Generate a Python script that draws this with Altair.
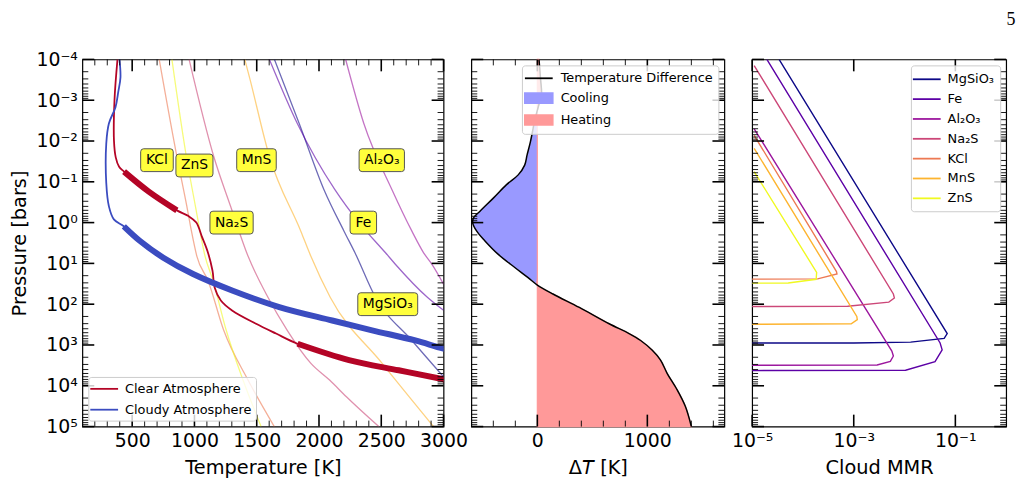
import altair as alt
import pandas as pd

FONT = "DejaVu Sans"

# ---------------------------------------------------------------------------
# Left panel: temperature profiles, log10 pressure [bar] and temperature [K]
# ---------------------------------------------------------------------------
clear_logp = [-4.0, -3.0, -2.0, -1.6, -1.37, -1.25, -0.76, -0.30, -0.16, 0.0, 0.33,
              0.70, 1.18, 1.59, 1.91, 2.16, 2.48, 2.72, 2.97, 3.37, 3.62, 3.84, 4.0]
clear_temp = [382, 358, 354, 368, 395, 435, 633, 859, 952, 1015, 1058,
              1105, 1145, 1162, 1212, 1305, 1495, 1655, 1828, 2241, 2640, 3000, 3250]
cloudy_logp = [-4.0, -3.56, -3.2, -2.83, -2.43, -1.94, -0.97, -0.40, -0.08, 0.09, 0.45,
               0.86, 1.26, 1.67, 2.07, 2.40, 2.64, 2.89, 3.09, 3.3]
cloudy_temp = [398, 406, 388, 366, 313, 292, 292, 313, 353, 433, 563,
               750, 989, 1308, 1681, 2106, 2426, 2773, 3000, 3300]

# convective regions (log10 pressure ranges) drawn with a heavy line
clear_convective = [(-1.26, -0.29), (2.96, 9.0)]
cloudy_convective = [(0.08, 9.0)]

# condensation curves: species -> (log10 pressure, temperature)
species = ["MgSiO₃", "Fe", "Al₂O₃", "Na₂S", "KCl", "MnS", "ZnS"]
species_colors = ["#0d0887", "#5c01a6", "#9c179e", "#cc4778", "#ed7953", "#fdb42f", "#f0f921"]
condensation = {
    "MgSiO₃": ([-4.0, -2.43, -0.80, 0.21, 0.74, 1.83, 2.89, 3.78],
               [1642, 1841, 2041, 2201, 2289, 2453, 2746, 3000]),
    "Fe": ([-4.0, -2.43, -0.80, 0.0, 0.74, 1.02, 1.83, 2.15],
           [1602, 1826, 2129, 2321, 2534, 2613, 2870, 3000]),
    "Al₂O₃": ([-4.0, -2.43, -0.80, 0.21, 0.74, 1.02, 1.51],
              [2214, 2360, 2587, 2746, 2840, 2906, 3000]),
    "Na₂S": ([-4.0, -1.62, -0.40, 0.82, 1.83, 2.64, 3.45, 3.86, 4.27, 5.0],
             [957, 1155, 1290, 1430, 1590, 1745, 1935, 2085, 2220, 2480]),
    "KCl": ([-4.0, -1.62, -0.40, 0.21, 0.82, 1.43, 2.64, 3.86, 5.0],
            [717, 859, 939, 976, 1019, 1110, 1235, 1430, 1641]),
    "MnS": ([-4.0, -3.56, -1.62, 0.21, 0.82, 1.83, 3.45, 5.0],
            [1404, 1442, 1602, 1854, 1934, 2090, 2507, 2920]),
    "ZnS": ([-4.0, -1.62, -0.40, 0.82, 1.43, 2.64, 3.86, 5.0],
            [819, 935, 1008, 1085, 1150, 1255, 1390, 1535]),
}

# species name tags
tag_text = ["KCl", "ZnS", "MnS", "Al₂O₃", "Na₂S", "Fe", "MgSiO₃"]
tag_temp = [699, 1000, 1498, 2504, 1298, 2356, 2552]
tag_logp = [-1.53, -1.40, -1.53, -1.53, 0.0, 0.0, 2.0]

# ---------------------------------------------------------------------------
# Middle panel: temperature difference (cloudy - clear) [K]
# ---------------------------------------------------------------------------
dt_logp = [-4.0, -3.5, -3.15, -2.95, -2.75, -2.5, -2.30, -1.98, -1.66, -1.41, -1.17,
           -0.93, -0.60, -0.28, -0.11, 0.01, 0.21, 0.45, 0.78, 1.10, 1.35, 1.53,
           1.75, 2.08, 2.48, 2.72, 2.89, 3.13, 3.37, 3.70, 4.10, 4.51, 5.0]
dt_vals = [15, 30, 38, 20, 0, -25, -39, -63, -93, -115, -174,
           -280, -400, -521, -581, -587, -551, -476, -355, -205, -84, 0,
           142, 382, 653, 834, 939, 1045, 1120, 1181, 1271, 1346, 1400]

# ---------------------------------------------------------------------------
# Right panel: cloud mass mixing ratio, species -> (log10 MMR, log10 pressure)
# ---------------------------------------------------------------------------
cloud_mmr = {
    "MgSiO₃": ([-4.47, -1.16, -1.22, -1.88, -3.0, -6.0], [-4.0, 2.72, 2.84, 2.93, 2.95, 2.95]),
    "Fe": ([-4.71, -1.30, -1.26, -1.40, -1.98, -6.0], [-4.0, 2.95, 3.12, 3.41, 3.62, 3.63]),
    "Al₂O₃": ([-4.96, -2.25, -2.22, -2.28, -2.54, -6.0], [-2.30, 3.15, 3.27, 3.40, 3.49, 3.50]),
    "Na₂S": ([-4.96, -2.22, -2.20, -2.31, -3.12, -6.0], [-3.85, 1.75, 1.85, 1.95, 2.05, 2.06]),
    "KCl": ([-4.96, -3.34, -3.33, -3.71, -6.0], [-2.14, 1.20, 1.26, 1.38, 1.39]),
    "MnS": ([-4.96, -2.94, -2.93, -3.05, -6.0], [-1.82, 2.30, 2.38, 2.48, 2.50]),
    "ZnS": ([-4.96, -3.73, -3.74, -4.29, -6.0], [-1.25, 1.22, 1.39, 1.48, 1.49]),
}

# ---------------------------------------------------------------------------
# Layout constants
# ---------------------------------------------------------------------------
H = 370
W1, W2, W3 = 364, 255, 256
MAJ_LEN, MIN_LEN = 12, 6

pressure_scale = alt.Scale(type="log", domain=[1e-4, 1e5], reverse=True, nice=False)
temp_scale = alt.Scale(domain=[100, 3000], nice=False, zero=False)
dt_scale = alt.Scale(domain=[-600, 1700], nice=False, zero=False)
mmr_scale = alt.Scale(type="log", domain=[1e-5, 1], nice=False)
species_scale = alt.Scale(domain=species, range=species_colors)

y_major = [10.0 ** k for k in range(-4, 6)]
y_minor = [m * 10.0 ** k for k in range(-4, 5) for m in range(2, 10)]
sup = {-5: "10⁻⁵", -4: "10⁻⁴", -3: "10⁻³", -2: "10⁻²", -1: "10⁻¹",
       0: "10⁰", 1: "10¹", 2: "10²", 3: "10³", 4: "10⁴", 5: "10⁵"}


def pow_label_expr(lo, hi):
    names = ",".join("'%s'" % sup[k] for k in range(lo, hi + 1))
    return "[%s][round(log(datum.value)/LN10)+%d]" % (names, -lo)


axis_common = dict(ticks=False, tickSize=0, domain=False, grid=False,
                   labelFontSize=19, titleFontSize=19.5, labelFlush=False,
                   labelColor="black", titleColor="black", titleFontWeight="normal")

y_axis_left = alt.Axis(values=y_major, labelExpr=pow_label_expr(-4, 5), labelPadding=5,
                       title="Pressure [bars]", titlePadding=6, **axis_common)
x_axis_1 = alt.Axis(values=[500, 1000, 1500, 2000, 2500, 3000], format="d", labelPadding=5,
                    title="Temperature [K]", titlePadding=8, **axis_common)
x_axis_2 = alt.Axis(values=[0, 1000], format="d", labelPadding=5,
                    title="Δ𝘛 [K]", titlePadding=8, **axis_common)
x_axis_3 = alt.Axis(values=[1e-5, 1e-3, 1e-1], labelExpr=pow_label_expr(-5, 0),
                    labelPadding=5, title="Cloud MMR", titlePadding=8, **axis_common)


def frame_ticks(xscale, xaxis, x_major, x_minor, yaxis, width):
    """Inward major/minor ticks on all four sides of a panel."""
    layers = []
    for vals, length, sw in [(y_major, MAJ_LEN, 1.6), (y_minor, MIN_LEN, 0.9)]:
        base = alt.Chart(pd.DataFrame({"v": vals})).mark_rule(color="black", strokeWidth=sw)
        ypos = alt.Y("v:Q", scale=pressure_scale, axis=yaxis)
        layers.append(base.encode(y=ypos, x=alt.value(0), x2=alt.value(length)))
        layers.append(base.encode(y=ypos, x=alt.value(width - length), x2=alt.value(width)))
    for vals, length, sw in [(x_major, MAJ_LEN, 1.6), (x_minor, MIN_LEN, 0.9)]:
        if not vals:
            continue
        base = alt.Chart(pd.DataFrame({"v": vals})).mark_rule(color="black", strokeWidth=sw)
        xpos = alt.X("v:Q", scale=xscale, axis=xaxis)
        layers.append(base.encode(x=xpos, y=alt.value(H - length), y2=alt.value(H)))
        layers.append(base.encode(x=xpos, y=alt.value(0), y2=alt.value(length)))
    return layers


line_symbol = "M-2,0H2"
legend_common = dict(title=None, symbolType=line_symbol)

# ---------------------------------------------------------------------------
# Panel 1
# ---------------------------------------------------------------------------
rows = []
for name, lp, tt, zones in [("Clear Atmosphere", clear_logp, clear_temp, clear_convective),
                            ("Cloudy Atmosphere", cloudy_logp, cloudy_temp, cloudy_convective)]:
    for i, (p, t) in enumerate(zip(lp, tt)):
        seg = ""
        for j, (lo, hi) in enumerate(zones):
            if lo <= p <= hi:
                seg = "%s-%d" % (name, j)
        rows.append({"atmosphere": name, "P": 10.0 ** p, "T": t, "idx": i, "segment": seg})
profiles = pd.DataFrame(rows)

cond_rows = []
for name in species:
    lp, tt = condensation[name]
    for i, (p, t) in enumerate(zip(lp, tt)):
        cond_rows.append({"species": name, "P": 10.0 ** p, "T": t, "idx": i})
cond_df = pd.DataFrame(cond_rows)

# approximate DejaVu Sans advance widths (em) for the tag box sizes
char_em = {"K": .656, "C": .698, "l": .278, "Z": .685, "n": .634, "S": .635, "M": .863,
           "A": .684, "O": .787, "N": .748, "a": .613, "F": .575, "e": .615, "g": .635,
           "i": .278, "₂": .40, "₃": .40}
TAG_FONT = 14
SYM_R = 50.0  # half side of the symbol box for size 10000


def tag_path(text):
    hw = (sum(char_em.get(c, .6) for c in text) * TAG_FONT + 10) / 2 / SYM_R
    hh = 11.5 / SYM_R
    c = 3 / SYM_R
    return ("M{a},{b}H{d}Q{hw},{b} {hw},{e}V{f}Q{hw},{hh} {d},{hh}H{a}"
            "Q{nhw},{hh} {nhw},{f}V{e}Q{nhw},{b} {a},{b}Z").format(
        a=-hw + c, b=-hh, d=hw - c, e=-hh + c, f=hh - c, hw=hw, hh=hh, nhw=-hw)


tags = pd.DataFrame({"label": tag_text, "T": tag_temp,
                     "P": [10.0 ** p for p in tag_logp]})
tags["path"] = [tag_path(t) for t in tag_text]

x1 = alt.X("T:Q", scale=temp_scale, axis=x_axis_1)
y1 = alt.Y("P:Q", scale=pressure_scale, axis=y_axis_left)
atmo_color = alt.Color("atmosphere:N",
                       scale=alt.Scale(domain=["Clear Atmosphere", "Cloudy Atmosphere"],
                                       range=["#b40426", "#3b4cc0"]),
                       legend=alt.Legend(orient="bottom-left", offset=6, **legend_common))

cond_lines = alt.Chart(cond_df).mark_line(strokeWidth=1.3, opacity=0.6, interpolate="monotone",
                                          clip=True).encode(
    x=x1, y=y1, order="idx:Q",
    stroke=alt.Stroke("species:N", scale=species_scale, legend=None))
thin = alt.Chart(profiles).mark_line(strokeWidth=1.8, interpolate="catmull-rom", clip=True).encode(
    x=x1, y=y1, color=atmo_color, order="idx:Q", detail="atmosphere:N")
thick = alt.Chart(profiles).transform_filter("datum.segment != ''").mark_line(
    strokeWidth=6, strokeCap="butt", interpolate="catmull-rom", clip=True).encode(
    x=x1, y=y1, color=atmo_color, order="idx:Q", detail="segment:N")
tag_box = alt.Chart(tags).mark_point(filled=True, fill="#ffff3c", stroke="#555555",
                                     strokeWidth=1, opacity=1, size=10000).encode(
    x=x1, y=y1, shape=alt.Shape("path:N", scale=None))
tag_label = alt.Chart(tags).mark_text(font=FONT, fontSize=TAG_FONT, color="black",
                                      align="center", baseline="middle").encode(
    x=x1, y=y1, text="label:N")

panel1 = alt.layer(
    cond_lines, thin, thick, tag_box, tag_label,
    *frame_ticks(temp_scale, x_axis_1, [500, 1000, 1500, 2000, 2500, 3000],
                 [t for t in range(200, 3000, 100) if t % 500], y_axis_left, W1)
).properties(width=W1, height=H)

# ---------------------------------------------------------------------------
# Panel 2
# ---------------------------------------------------------------------------
dt_df = pd.DataFrame({"P": [10.0 ** p for p in dt_logp], "dT": dt_vals,
                      "idx": range(len(dt_vals))})
x2 = alt.X("dT:Q", scale=dt_scale, axis=x_axis_2)
y2 = alt.Y("P:Q", scale=pressure_scale, axis=None)

cool = alt.Chart(dt_df).transform_calculate(neg="min(datum.dT, 0)", zero="0").mark_area(
    orient="horizontal", color="#9999ff", interpolate="catmull-rom").encode(
    x=alt.X("neg:Q", scale=dt_scale, axis=x_axis_2), x2="zero:Q", y=y2)
heat = alt.Chart(dt_df).transform_calculate(pos="max(datum.dT, 0)", zero="0").mark_area(
    orient="horizontal", color="#ff9999", stroke="#ff9999", strokeWidth=1.2,
    interpolate="catmull-rom").encode(
    x=alt.X("pos:Q", scale=dt_scale, axis=x_axis_2), x2="zero:Q", y=y2)
dt_line = alt.Chart(dt_df).mark_line(color="black", strokeWidth=1.5,
                                     interpolate="catmull-rom").encode(
    x=x2, y=y2, order="idx:Q")

components = ["Temperature Difference", "Cooling", "Heating"]
comp_colors = ["black", "#9999ff", "#ff9999"]
patch = "M-2,-0.7H2V0.7H-2Z"
key_df = pd.DataFrame({"component": components, "dT": [0, 0, 0], "P": [1e-7] * 3})
key_legend = alt.Legend(title=None, orient="top-right", offset=6, rowPadding=4,
                        padding=5, labelOffset=14)
key = alt.Chart(key_df).mark_point(filled=True, opacity=1, clip=True).encode(
    x=x2, y=y2,
    fill=alt.Fill("component:N", scale=alt.Scale(domain=components, range=comp_colors),
                  legend=key_legend),
    stroke=alt.Stroke("component:N", scale=alt.Scale(domain=components, range=comp_colors),
                      legend=key_legend),
    shape=alt.Shape("component:N", scale=alt.Scale(domain=components,
                                                   range=[line_symbol, patch, patch]),
                    legend=key_legend))

panel2 = alt.layer(
    cool, heat, dt_line, key,
    *frame_ticks(dt_scale, x_axis_2, [0, 1000],
                 [-400, -200, 200, 400, 600, 800, 1200, 1400, 1600], None, W2)
).properties(width=W2, height=H)

# ---------------------------------------------------------------------------
# Panel 3
# ---------------------------------------------------------------------------
mmr_rows = []
for name in species:
    lm, lp = cloud_mmr[name]
    for i, (m, p) in enumerate(zip(lm, lp)):
        mmr_rows.append({"species": name, "MMR": 10.0 ** m, "P": 10.0 ** p, "idx": i})
mmr_df = pd.DataFrame(mmr_rows)

x3 = alt.X("MMR:Q", scale=mmr_scale, axis=x_axis_3)
mmr_lines = alt.Chart(mmr_df).mark_line(strokeWidth=1.4, clip=True).encode(
    x=x3, y=alt.Y("P:Q", scale=pressure_scale, axis=None), order="idx:Q",
    color=alt.Color("species:N", scale=species_scale,
                    legend=alt.Legend(orient="top-right", offset=6, padding=6, rowPadding=5,
                                      labelOffset=13, symbolOffset=2, **legend_common)))

panel3 = alt.layer(
    mmr_lines,
    *frame_ticks(mmr_scale, x_axis_3, [1e-5, 1e-3, 1e-1], [], None, W3)
).properties(width=W3, height=H)

chart = alt.hconcat(panel1, panel2, panel3, spacing=28, bounds="flush").resolve_scale(
    color="independent", stroke="independent", fill="independent", shape="independent"
).properties(
    title=alt.TitleParams("5", anchor="end", font="Liberation Serif", fontSize=18,
                          fontWeight="normal", color="black", offset=21, dx=8),
    padding={"left": 9, "top": 9, "right": 10, "bottom": 5},
).configure_view(stroke="black", strokeWidth=1.2).configure_legend(
    labelFont=FONT, labelFontSize=13, labelColor="black", padding=4, rowPadding=6,
    symbolOffset=4, labelOffset=13, fillColor="rgba(255,255,255,0.8)",
    strokeColor="#cccccc", cornerRadius=3, symbolSize=196, symbolStrokeWidth=1.8,
).configure_axis(labelFont=FONT, titleFont=FONT).configure_title(font="Liberation Serif")

chart.save("out.html", embed_options={"renderer": "svg", "actions": False})
